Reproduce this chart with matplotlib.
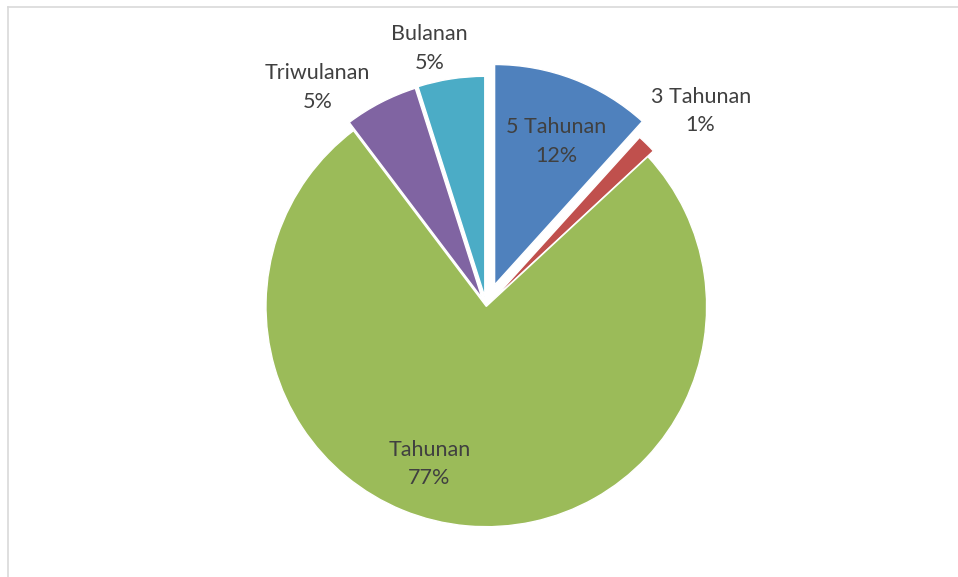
import matplotlib
matplotlib.use("Agg")
import matplotlib.pyplot as plt
from matplotlib.lines import Line2D

categories = ["5 Tahunan", "3 Tahunan", "Tahunan", "Triwulanan", "Bulanan"]
values = [11.7, 1.4, 76.6, 5.4, 4.9]
colors = ["#4F81BD", "#C0504D", "#9BBB59", "#8064A2", "#4BACC6"]
explode = [0.105, 0.036, 0.0, 0.042, 0.045]
# label anchor positions (data units, pie radius = 1)
label_pos = [(0.317, 0.747), (0.973, 0.887), (-0.258, -0.715), (-0.765, 0.995), (-0.258, 1.172)]

W, H = 958, 577
cx, cy, R = 486.3, 306.4, 220.3

fig = plt.figure(figsize=(W / 100, H / 100), dpi=100)
ax = fig.add_axes([0, 0, 1, 1])
ax.pie(values, colors=colors, explode=explode, startangle=90, counterclock=False,
       radius=1.0, center=(0, 0),
       wedgeprops=dict(edgecolor="white", linewidth=1.0))
ax.set_xlim(-cx / R, (W - cx) / R)
ax.set_ylim(-(H - cy) / R, cy / R)
ax.set_aspect("auto")
ax.axis("off")

total = sum(values)
for name, v, (x, y) in zip(categories, values, label_pos):
    ax.text(x, y, f"{name}\n{v / total * 100:.0f}%", ha="center", va="center",
            fontsize=15.5, color="#404040", family=["Lato", "DejaVu Sans"], linespacing=1.55)

# chart border
fig.add_artist(Line2D([7.5 / W, 7.5 / W], [0, 1 - 7 / H], transform=fig.transFigure, color="#D9D9D9", lw=1.2))
fig.add_artist(Line2D([7.5 / W, 1], [1 - 7 / H, 1 - 7 / H], transform=fig.transFigure, color="#D9D9D9", lw=1.2))

fig.savefig("out.png", dpi=100)
